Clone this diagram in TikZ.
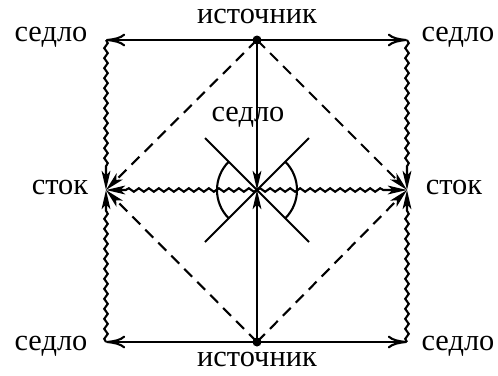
\documentclass[tikz,border=0pt]{standalone}
\usepackage{fontspec}
\setmainfont{Liberation Serif}
\usepackage{tikz}
\usetikzlibrary{calc,arrows.meta,decorations.pathmorphing}

\begin{document}
\begin{tikzpicture}[x=0.0125cm,y=0.0125cm,line width=0.75pt,
  flow/.style={-{Computer Modern Rightarrow[length=2.4mm,width=1.6mm]}},
  inflow/.style={-{Stealth[length=2.4mm,width=1.1mm,inset=0.6mm]}},
  sepx/.style={dash pattern=on 1.4mm off 0.9mm,-{Stealth[length=2.4mm,width=1.1mm,inset=0.6mm]}},
  wave/.style={-{Stealth[length=2.4mm,width=1.1mm,inset=0.6mm]},
    decorate,decoration={snake,amplitude=0.22mm,segment length=1.25mm,post length=2.4mm}},
  lbl/.style={font=\fontsize{10.8}{13}\selectfont}]
  \useasboundingbox (0,0) rectangle (498,375);

  % --- fixed points ---
  \coordinate (tl) at (106,335);
  \coordinate (tr) at (407,335);
  \coordinate (bl) at (106,33);
  \coordinate (br) at (407,33);
  \coordinate (srcT) at (257,335);
  \coordinate (srcB) at (257,33);
  \coordinate (sinkL) at (106,185);
  \coordinate (sinkR) at (407,185);
  \coordinate (ctr) at (257,185);

  % --- labels ---
  \node[lbl] (lsrcT) at (257,359) {источник};
  \node[lbl] (lsrcB) at (257,16) {источник};
  \node[lbl] (ltl) at (51,338) {седло};
  \node[lbl] (ltr) at (458,338) {седло};
  \node[lbl] (lbl2) at (51,29) {седло};
  \node[lbl] (lbr) at (458,29) {седло};
  \node[lbl] (lsinkL) at (60,188) {сток};
  \node[lbl] (lsinkR) at (454,188) {сток};
  \node[lbl] (lctr) at (248,258) {седло};

  % --- dashed separatrices into the sinks ---
  \foreach \s in {srcT,srcB}{
    \draw[sepx] (\s) -- (sinkL);
    \draw[sepx] (\s) -- (sinkR);
  }

  % --- wavy lines into the sinks ---
  \foreach \a/\b in {tl/sinkL,bl/sinkL,tr/sinkR,br/sinkR,ctr/sinkL,ctr/sinkR}{
    \draw[wave] (\a) -- (\b);
  }

  % --- straight trajectories out of the sources ---
  \foreach \s/\t in {srcT/tl,srcT/tr,srcB/bl,srcB/br}{
    \draw[flow] (\s) -- (\t);
  }
  \draw[inflow] (srcT) -- (ctr);
  \draw[inflow] (srcB) -- (ctr);

  % --- saddle at the centre ---
  \draw ($(ctr)+(-52,52)$) -- ($(ctr)+(52,-52)$);
  \draw ($(ctr)+(52,52)$) -- ($(ctr)+(-52,-52)$);
  \draw ([shift={(135:40)}]ctr) arc (135:225:40);
  \draw ([shift={(-45:40)}]ctr) arc (-45:45:40);

  % --- sources ---
  \fill (srcT) circle (4.5);
  \fill (srcB) circle (4.5);
\end{tikzpicture}
\end{document}
